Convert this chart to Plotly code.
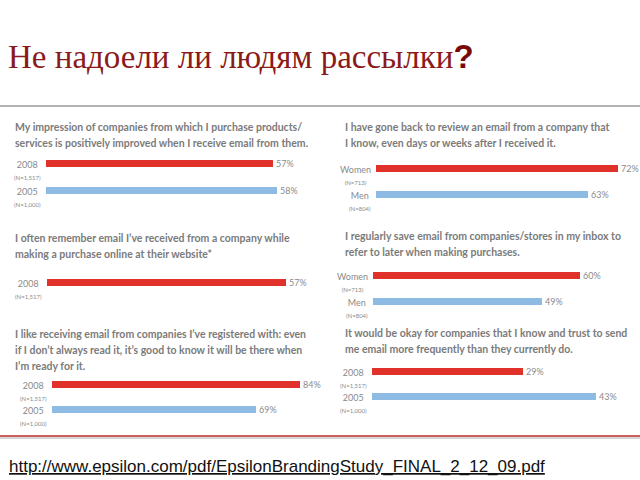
import plotly.graph_objects as go

W, H = 640, 480

# survey panels: question text, bar categories, sample sizes, percentages
questions = [
    "My impression of companies from which I purchase products/<br>services is positively improved when I receive email from them.",
    "I often remember email I’ve received from a company while<br>making a purchase online at their website*",
    "I like receiving email from companies I’ve registered with: even<br>if I don’t always read it, it’s good to know it will be there when<br>I’m ready for it.",
    "I have gone back to review an email from a company that<br>I know, even days or weeks after I received it.",
    "I regularly save email from companies/stores in my inbox to<br>refer to later when making purchases.",
    "It would be okay for companies that I know and trust to send<br>me email more frequently than they currently do.",
]
categories = [
    ["2008", "2005"],
    ["2008"],
    ["2008", "2005"],
    ["Women", "Men"],
    ["Women", "Men"],
    ["2008", "2005"],
]
sample_sizes = [
    ["N=1,517", "N=1,000"],
    ["N=1,517"],
    ["N=1,517", "N=1,000"],
    ["N=713", "N=804"],
    ["N=713", "N=804"],
    ["N=1,517", "N=1,000"],
]
values = [
    [57, 58],
    [57],
    [84, 69],
    [72, 63],
    [60, 49],
    [29, 43],
]

bar_colors = ["#e0312a", "#8dbbe4"]

# placement of each small chart in pixels:
# (title x, title first line y, bar start x, px per %, first bar y, bar spacing)
panels = [
    (13, 127, 46, 3.99, 163, 27),
    (13, 238, 47, 4.19, 282, 26),
    (13, 334, 52, 2.95, 384, 25),
    (343, 127, 376, 3.36, 168, 26),
    (343, 236, 373, 3.45, 275, 26),
    (343, 333, 372, 5.20, 371, 25),
]
line_gap = 16

fig = go.Figure()
annotations = []
layout_axes = {}

for i, (q, cats, ns, vals, geo) in enumerate(zip(questions, categories, sample_sizes, values, panels)):
    sfx = "" if i == 0 else str(i + 1)
    tx, ty, x0, k, yb, d = geo
    xend = 318 if x0 < 330 else 636
    fig.add_trace(go.Bar(
        x=vals, y=cats, orientation="h",
        marker=dict(color=bar_colors[:len(vals)], line=dict(width=0)),
        width=7 / d,
        text=[f"{v}%" for v in vals], textposition="outside",
        textfont=dict(family="Lato", size=9, color="#8a8a8a"),
        constraintext="none", cliponaxis=False,
        xaxis=f"x{sfx}", yaxis=f"y{sfx}", showlegend=False, hoverinfo="skip",
    ))
    ytop = yb - d / 2
    ybot = yb + d * (len(cats) - 0.5)
    layout_axes[f"xaxis{sfx}"] = dict(
        domain=[x0 / W, xend / W], range=[0, (xend - x0) / k],
        visible=False, anchor=f"y{sfx}", fixedrange=True,
    )
    layout_axes[f"yaxis{sfx}"] = dict(
        domain=[1 - ybot / H, 1 - ytop / H], range=[len(cats) - 0.5, -0.5],
        visible=False, anchor=f"x{sfx}", type="category", fixedrange=True,
    )
    for j, line in enumerate(q.split("<br>")):
        annotations.append(dict(
            text=line, xref="paper", yref="paper",
            x=tx / W, y=1 - (ty + j * line_gap) / H,
            xanchor="left", yanchor="middle", showarrow=False,
            font=dict(family="Lato", size=10.5, color="#7b7b7b", weight="bold"),
        ))
    for j, (c, s) in enumerate(zip(cats, ns)):
        annotations.append(dict(
            text=f"{c}<br><span style='font-size:6px'>({s})</span>",
            xref=f"x{sfx} domain", yref=f"y{sfx}", x=0, y=j,
            xanchor="right", yanchor="top", xshift=-3, yshift=6,
            align="center", showarrow=False,
            font=dict(family="Lato", size=9, color="#8a8a8a"),
        ))

# slide title
annotations.append(dict(
    text="Не надоели ли людям рассылки<span style='font-family:Liberation Sans;font-weight:bold;color:#7a0a0a'>?</span>",
    xref="paper", yref="paper", x=6 / W, y=1 - 56 / H,
    xanchor="left", yanchor="middle", showarrow=False,
    font=dict(family="Liberation Serif", size=33, color="#8b1a1a"),
))
# source link
annotations.append(dict(
    text="<u>http://www.epsilon.com/pdf/EpsilonBrandingStudy_FINAL_2_12_09.pdf</u>",
    xref="paper", yref="paper", x=7 / W, y=1 - 466 / H,
    xanchor="left", yanchor="middle", showarrow=False,
    font=dict(family="Liberation Sans", size=17, color="#111111"),
))

shapes = [
    dict(type="line", xref="paper", yref="paper", x0=0, x1=1,
         y0=1 - 106 / H, y1=1 - 106 / H, line=dict(color="#b4b4b4", width=2)),
    dict(type="line", xref="paper", yref="paper", x0=0, x1=1,
         y0=1 - 438 / H, y1=1 - 438 / H, line=dict(color="#d6d6d6", width=2)),
    dict(type="line", xref="paper", yref="paper", x0=0, x1=1,
         y0=1 - 436 / H, y1=1 - 436 / H, line=dict(color="#b82a2a", width=1.5)),
]

fig.update_layout(
    width=W, height=H, margin=dict(l=0, r=0, t=0, b=0),
    paper_bgcolor="white", plot_bgcolor="rgba(0,0,0,0)",
    annotations=annotations, shapes=shapes, bargap=0,
    **layout_axes,
)

# drop the browser's default 8px body margin so the 640x480 slide fits the window
fig.write_html("out.html", config={"displayModeBar": False},
               post_script="document.body.style.margin='0';")
